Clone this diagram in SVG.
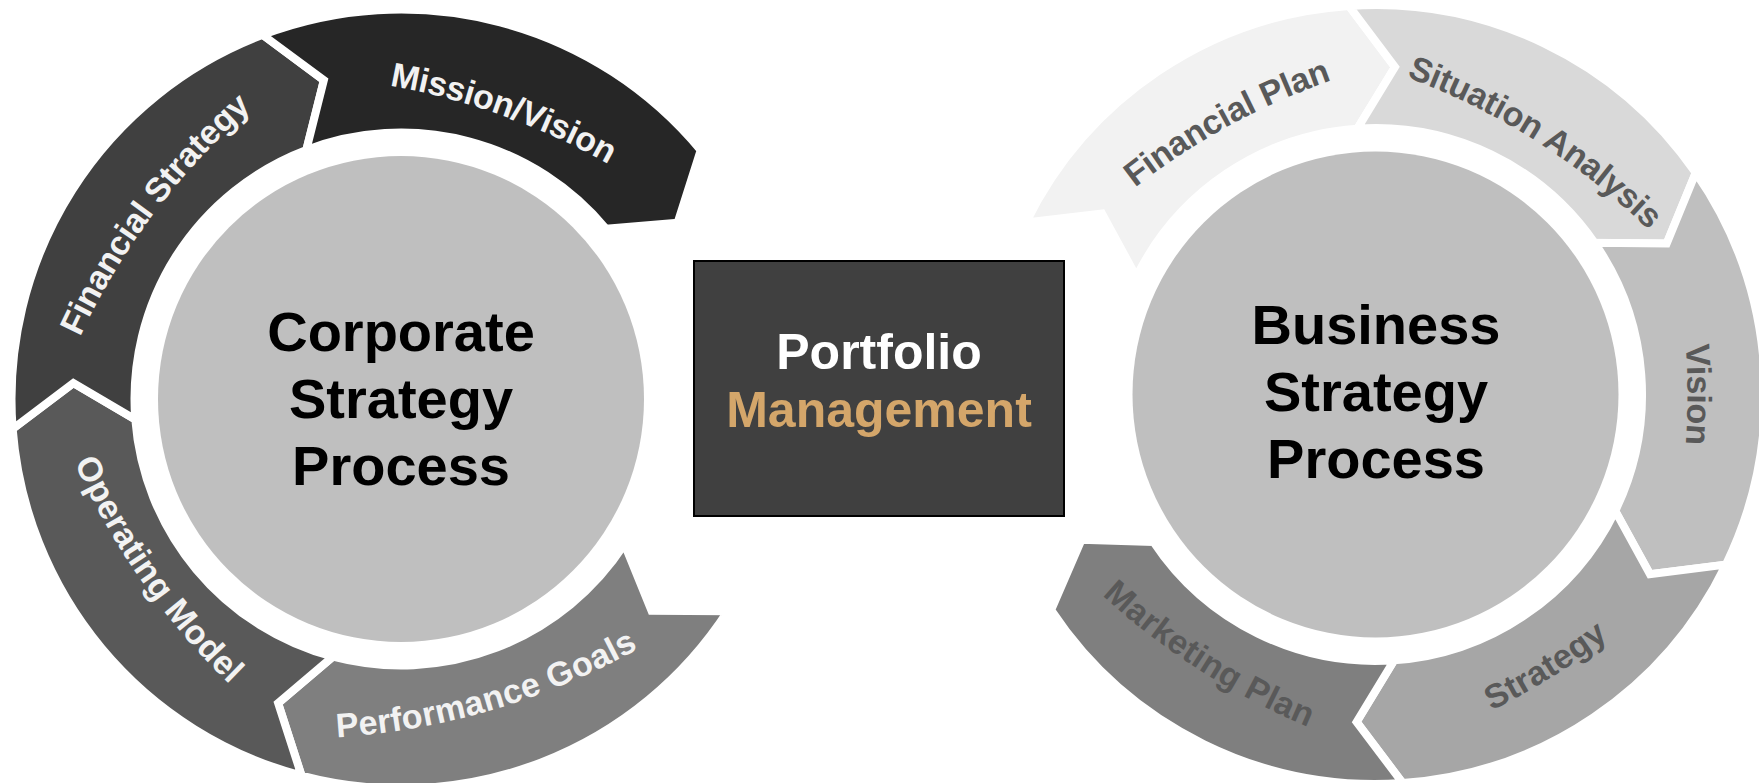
<svg xmlns="http://www.w3.org/2000/svg" xmlns:xlink="http://www.w3.org/1999/xlink" width="1759" height="783" viewBox="0 0 1759 783">
<style>
.seg{stroke:#ffffff;stroke-width:8;stroke-linejoin:miter;stroke-miterlimit:10}
.hub{fill:#bfbfbf}
.t{font-family:"Liberation Sans",Arial,Helvetica,sans-serif;font-weight:700}
.hubtxt{font-size:56px;fill:#000000;text-anchor:middle}
.lbl{font-size:34px;dominant-baseline:central}
.lw{fill:#f2f2f2}
.lg{fill:#595959}
</style>
<defs>
<path id="tp-mission" d="M 266.8 63.4 A 700 700 0 0 1 717.7 224.8"/>
<path id="tp-finstrat" d="M 34.3 423.1 A 700 700 0 0 1 321.8 40.2"/>
<path id="tp-operating" d="M 48.5 353.6 A 700 700 0 0 0 323.1 745.8"/>
<path id="tp-performance" d="M 247.5 725.4 A 700 700 0 0 0 706.9 590.2"/>
<path id="tp-finplan" d="M 1033.3 267 A 700 700 0 0 1 1453.7 37.7"/>
<path id="tp-situation" d="M 1317.3 38.6 A 700 700 0 0 1 1722 294.4"/>
<path id="tp-vision" d="M 1657.3 155.1 A 700 700 0 0 1 1657.3 633.9"/>
<path id="tp-strategy" d="M 1320.2 757.8 A 700 700 0 0 0 1726.3 504.1"/>
<path id="tp-marketing" d="M 1026.9 495.4 A 700 700 0 0 0 1430.3 753.3"/>
</defs>
<rect width="1759" height="783" fill="#ffffff"/>

<!-- Left cycle: Corporate Strategy Process -->
<g id="corporate-strategy-process">
<circle class="hub" cx="401" cy="399" r="243"/>
<text class="t hubtxt"><tspan x="401" y="351">Corporate</tspan><tspan x="401" y="418">Strategy</tspan><tspan x="401" y="485">Process</tspan></text>
</g>
<g id="performance-goals">
<path class="seg" fill="#7f7f7f" d="M 727.66 611.14 A 389.5 389.5 0 0 1 301.50 775.58 L 278.13 703.12 L 332.92 656.66 A 266.5 266.5 0 0 0 624.51 544.15 L 651.53 610.71 Z"/>
<text class="t lbl lw"><textPath href="#tp-performance" startOffset="50%" text-anchor="middle">Performance Goals</textPath></text>
</g>
<g id="operating-model">
<path class="seg" fill="#595959" d="M 301.50 775.58 A 389.5 389.5 0 0 1 12.65 428.88 L 73.39 382.98 L 135.29 419.45 A 266.5 266.5 0 0 0 332.92 656.66 L 278.13 703.12 Z"/>
<text class="t lbl lw"><textPath href="#tp-operating" startOffset="50%" text-anchor="middle">Operating Model</textPath></text>
</g>
<g id="financial-strategy">
<path class="seg" fill="#404040" d="M 12.65 428.88 A 389.5 389.5 0 0 1 262.68 34.88 L 323.87 80.20 L 306.36 149.87 A 266.5 266.5 0 0 0 135.29 419.45 L 73.39 382.98 Z"/>
<text class="t lbl lw"><textPath href="#tp-finstrat" startOffset="50%" text-anchor="middle">Financial Strategy</textPath></text>
</g>
<g id="mission-vision">
<path class="seg" fill="#262626" d="M 262.68 34.88 A 389.5 389.5 0 0 1 700.68 150.20 L 677.63 222.77 L 606.05 228.77 A 266.5 266.5 0 0 0 306.36 149.87 L 323.87 80.20 Z"/>
<text class="t lbl lw"><textPath href="#tp-mission" startOffset="50%" text-anchor="middle">Mission/Vision</textPath></text>
</g>

<!-- Center box -->
<g id="portfolio-management">
<rect x="694" y="261" width="370" height="255" fill="#404040" stroke="#000000" stroke-width="2"/>
<text class="t" font-size="50" text-anchor="middle"><tspan x="879" y="369" fill="#ffffff">Portfolio</tspan><tspan x="879" y="427" fill="#d4a66a">Management</tspan></text>
</g>

<!-- Right cycle: Business Strategy Process -->
<g id="business-strategy-process">
<circle class="hub" cx="1375.5" cy="394.5" r="243"/>
<text class="t hubtxt"><tspan x="1376" y="344">Business</tspan><tspan x="1376" y="411">Strategy</tspan><tspan x="1376" y="478">Process</tspan></text>
</g>
<g id="financial-plan">
<path class="seg" fill="#f2f2f2" d="M 1026.02 222.53 A 389.5 389.5 0 0 1 1349.01 5.90 L 1394.95 67.08 L 1357.37 128.62 A 266.5 266.5 0 0 0 1136.38 276.84 L 1101.98 213.46 Z"/>
<text class="t lbl lg"><textPath href="#tp-finplan" startOffset="50%" text-anchor="middle">Financial Plan</textPath></text>
</g>
<g id="situation-analysis">
<path class="seg" fill="#d9d9d9" d="M 1349.01 5.90 A 389.5 389.5 0 0 1 1695.72 172.77 L 1666.70 243.54 L 1594.59 242.79 A 266.5 266.5 0 0 0 1357.37 128.62 L 1394.95 67.08 Z"/>
<text class="t lbl lg"><textPath href="#tp-situation" startOffset="50%" text-anchor="middle">Situation Analysis</textPath></text>
</g>
<g id="vision">
<path class="seg" fill="#bfbfbf" d="M 1695.72 172.77 A 389.5 389.5 0 0 1 1725.88 564.63 L 1649.96 574.10 L 1615.23 510.91 A 266.5 266.5 0 0 0 1594.59 242.79 L 1666.70 243.54 Z"/>
<text class="t lbl lg"><textPath href="#tp-vision" startOffset="50%" text-anchor="middle">Vision</textPath></text>
</g>
<g id="strategy">
<path class="seg" fill="#a6a6a6" d="M 1725.88 564.63 A 389.5 389.5 0 0 1 1402.67 783.05 L 1356.62 721.96 L 1394.09 660.35 A 266.5 266.5 0 0 0 1615.23 510.91 L 1649.96 574.10 Z"/>
<text class="t lbl lg"><textPath href="#tp-strategy" startOffset="50%" text-anchor="middle">Strategy</textPath></text>
</g>
<g id="marketing-plan">
<path class="seg" fill="#7f7f7f" d="M 1402.67 783.05 A 389.5 389.5 0 0 1 1051.08 610.05 L 1081.45 539.83 L 1153.53 541.98 A 266.5 266.5 0 0 0 1394.09 660.35 L 1356.62 721.96 Z"/>
<text class="t lbl lg"><textPath href="#tp-marketing" startOffset="50%" text-anchor="middle">Marketing Plan</textPath></text>
</g>
</svg>
